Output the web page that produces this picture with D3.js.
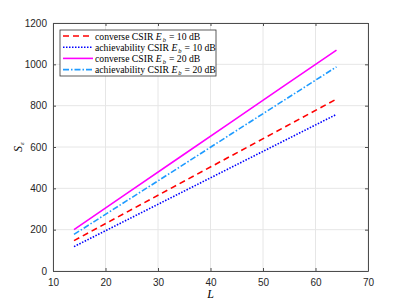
<!DOCTYPE html>
<html>
<head>
<meta charset="utf-8">
<script src="https://cdn.jsdelivr.net/npm/d3@7"></script>
<style>
  body { margin: 0; background: #fff; }
  svg { display: block; }
  .tick text { font-family: "Liberation Sans", Arial, sans-serif; font-size: 10px; fill: #262626; }
</style>
</head>
<body>
<div id="chart"></div>
<script>
// data
var L = [14, 24, 34, 44, 54, 64];
var converse10 = [147, 284, 421, 558, 695, 832];
var achiev10 = [118, 246, 374, 502, 630, 758];
var converse20 = [200, 374, 548, 722, 896, 1069];
var achiev20 = [177, 339, 501, 664, 826, 988];
var xTicks = [10, 20, 30, 40, 50, 60, 70];
var yTicks = [0, 200, 400, 600, 800, 1000, 1200];

var series = [
    { name: "converse CSIR ", snr: "10 dB", values: converse10, color: "#ff0000", dash: "6,4" },
    { name: "achievability CSIR ", snr: "10 dB", values: achiev10, color: "#0000ff", dash: "1.5,1.5" },
    { name: "converse CSIR ", snr: "20 dB", values: converse20, color: "#ff00ff", dash: null },
    { name: "achievability CSIR ", snr: "20 dB", values: achiev20, color: "#1e9bff", dash: "6,2,1.5,2" }
];

var width = 407, height = 305;
var margin = { top: 23, right: 39, bottom: 34, left: 53 };
var w = width - margin.left - margin.right,
    h = height - margin.top - margin.bottom;

var svg = d3.select("#chart").append("svg")
    .attr("width", width)
    .attr("height", height);

var g = svg.append("g")
    .attr("transform", "translate(" + margin.left + "," + margin.top + ")");

var x = d3.scaleLinear().domain([10, 70]).range([0, w]);
var y = d3.scaleLinear().domain([0, 1200]).range([h, 0]);

// grid
g.append("g").selectAll("line").data(xTicks).enter().append("line")
    .attr("x1", d => x(d)).attr("x2", d => x(d))
    .attr("y1", 0).attr("y2", h)
    .attr("stroke", "#e6e6e6").attr("stroke-width", 1);
g.append("g").selectAll("line").data(yTicks).enter().append("line")
    .attr("y1", d => y(d)).attr("y2", d => y(d))
    .attr("x1", 0).attr("x2", w)
    .attr("stroke", "#e6e6e6").attr("stroke-width", 1);

// axes, ticks pointing inward
g.append("g")
    .attr("transform", "translate(0," + h + ")")
    .call(d3.axisBottom(x).tickValues(xTicks).tickFormat(d3.format("d")).tickSizeInner(-3).tickSizeOuter(0).tickPadding(8));
g.append("g")
    .call(d3.axisLeft(y).tickValues(yTicks).tickFormat(d3.format("d")).tickSizeInner(-3).tickSizeOuter(0).tickPadding(6));
g.append("g")
    .call(d3.axisTop(x).tickValues(xTicks).tickSizeInner(-3).tickSizeOuter(0).tickFormat(""));
g.append("g")
    .attr("transform", "translate(" + w + ",0)")
    .call(d3.axisRight(y).tickValues(yTicks).tickSizeInner(-3).tickSizeOuter(0).tickFormat(""));
g.selectAll(".domain").attr("stroke", "#4d4d4d");
g.selectAll(".tick line").attr("stroke", "#4d4d4d");

// lines
var line = d3.line()
    .x((d, i) => x(L[i]))
    .y(d => y(d));

series.forEach(function (s) {
    g.append("path")
        .datum(s.values)
        .attr("d", line)
        .attr("fill", "none")
        .attr("stroke", s.color)
        .attr("stroke-width", 1.6)
        .attr("stroke-dasharray", s.dash);
});

// axis labels
svg.append("text")
    .attr("x", margin.left + x(40))
    .attr("y", 298)
    .attr("text-anchor", "middle")
    .style("font-family", "Liberation Serif, serif")
    .style("font-style", "italic")
    .style("font-size", "12px")
    .text("L");

var yl = svg.append("text")
    .attr("transform", "translate(22," + (margin.top + h / 2) + ") rotate(-90)")
    .attr("text-anchor", "middle")
    .style("font-family", "Liberation Serif, serif")
    .style("font-size", "12px");
yl.append("tspan").style("font-style", "italic").text("S");
yl.append("tspan").attr("dx", 1).attr("dy", 2).style("font-size", "7px").style("font-style", "italic").text("ε");

// legend
var lg = g.append("g").attr("transform", "translate(7,7)");
lg.append("rect")
    .attr("width", 156).attr("height", 46)
    .attr("fill", "#fff").attr("stroke", "#333").attr("stroke-width", 0.8);

series.forEach(function (s, i) {
    var yy = 6 + i * 11.2;
    lg.append("line")
        .attr("x1", 3).attr("x2", 33)
        .attr("y1", yy).attr("y2", yy)
        .attr("stroke", s.color).attr("stroke-width", 1.6)
        .attr("stroke-dasharray", s.dash);
    var t = lg.append("text")
        .attr("x", 35).attr("y", yy + 3.5)
        .style("font-family", "Liberation Serif, serif")
        .style("font-size", "9.7px")
        .attr("fill", "#000");
    t.append("tspan").text(s.name);
    t.append("tspan").style("font-style", "italic").text("E");
    t.append("tspan").attr("dx", 1).attr("dy", 2).style("font-size", "6.5px").style("font-style", "italic").text("b");
    t.append("tspan").attr("dx", 0.5).attr("dy", -2).text(" = " + s.snr);
});
</script>
</body>
</html>
